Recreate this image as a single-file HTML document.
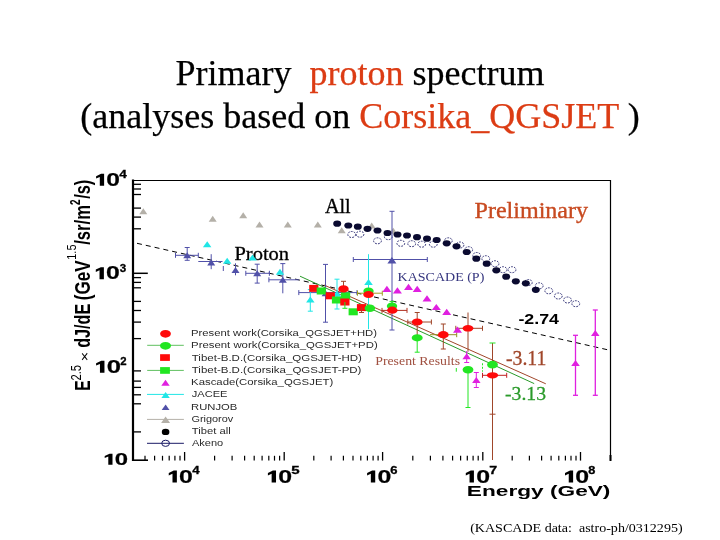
<!DOCTYPE html>
<html><head><meta charset="utf-8"><style>
html,body{margin:0;padding:0;background:#fff;width:720px;height:540px;overflow:hidden}
svg{position:absolute;left:0;top:0;will-change:transform}
</style></head><body>
<svg width="720" height="540" viewBox="0 0 720 540">
<text x="360" y="85" text-anchor="middle" font-family="Liberation Serif" font-size="36" fill="#000" stroke="#000" stroke-width="0.25" xml:space="preserve">Primary  <tspan fill="#dc3c14" stroke="#dc3c14">proton</tspan> spectrum</text>
<text x="360" y="128" text-anchor="middle" font-family="Liberation Serif" font-size="36" fill="#000" stroke="#000" stroke-width="0.25" xml:space="preserve">(analyses based on <tspan fill="#dc3c14" stroke="#dc3c14">Corsika_QGSJET</tspan> )</text>
<line x1="133" y1="179.5" x2="133" y2="461" stroke="#000" stroke-width="2.2"/>
<line x1="133" y1="180.5" x2="610.5" y2="180.5" stroke="#000" stroke-width="1.2"/>
<line x1="610.5" y1="180" x2="610.5" y2="460" stroke="#000" stroke-width="1.2"/>
<line x1="132" y1="460.2" x2="148" y2="460.2" stroke="#000" stroke-width="1.6"/>
<line x1="133" y1="431.9" x2="141" y2="431.9" stroke="#000" stroke-width="1.3"/>
<line x1="133" y1="403.8" x2="141" y2="403.8" stroke="#000" stroke-width="1.3"/>
<line x1="133" y1="394.8" x2="141" y2="394.8" stroke="#000" stroke-width="1.3"/>
<line x1="133" y1="387.4" x2="141" y2="387.4" stroke="#000" stroke-width="1.3"/>
<line x1="133" y1="381.1" x2="141" y2="381.1" stroke="#000" stroke-width="1.3"/>
<line x1="133" y1="370.9" x2="141" y2="370.9" stroke="#000" stroke-width="1.3"/>
<line x1="133" y1="338.6" x2="141" y2="338.6" stroke="#000" stroke-width="1.3"/>
<line x1="133" y1="322.1" x2="141" y2="322.1" stroke="#000" stroke-width="1.3"/>
<line x1="133" y1="310.5" x2="141" y2="310.5" stroke="#000" stroke-width="1.3"/>
<line x1="133" y1="301.4" x2="141" y2="301.4" stroke="#000" stroke-width="1.3"/>
<line x1="133" y1="287.8" x2="141" y2="287.8" stroke="#000" stroke-width="1.3"/>
<line x1="133" y1="282.4" x2="141" y2="282.4" stroke="#000" stroke-width="1.3"/>
<line x1="133" y1="277.6" x2="141" y2="277.6" stroke="#000" stroke-width="1.3"/>
<line x1="133" y1="228.8" x2="141" y2="228.8" stroke="#000" stroke-width="1.3"/>
<line x1="133" y1="217.1" x2="141" y2="217.1" stroke="#000" stroke-width="1.3"/>
<line x1="133" y1="208.1" x2="141" y2="208.1" stroke="#000" stroke-width="1.3"/>
<line x1="133" y1="194.5" x2="141" y2="194.5" stroke="#000" stroke-width="1.3"/>
<line x1="133" y1="189.0" x2="141" y2="189.0" stroke="#000" stroke-width="1.3"/>
<line x1="133" y1="184.3" x2="141" y2="184.3" stroke="#000" stroke-width="1.3"/>
<line x1="133" y1="273.3" x2="147.8" y2="273.3" stroke="#000" stroke-width="1.5"/>
<line x1="214.6" y1="455.8" x2="214.6" y2="460.6" stroke="#000" stroke-width="1.2"/>
<line x1="232.1" y1="455.8" x2="232.1" y2="460.6" stroke="#000" stroke-width="1.2"/>
<line x1="244.6" y1="455.8" x2="244.6" y2="460.6" stroke="#000" stroke-width="1.2"/>
<line x1="254.2" y1="455.8" x2="254.2" y2="460.6" stroke="#000" stroke-width="1.2"/>
<line x1="262.1" y1="455.8" x2="262.1" y2="460.6" stroke="#000" stroke-width="1.2"/>
<line x1="268.8" y1="455.8" x2="268.8" y2="460.6" stroke="#000" stroke-width="1.2"/>
<line x1="274.5" y1="455.8" x2="274.5" y2="460.6" stroke="#000" stroke-width="1.2"/>
<line x1="279.6" y1="455.8" x2="279.6" y2="460.6" stroke="#000" stroke-width="1.2"/>
<line x1="313.8" y1="455.8" x2="313.8" y2="460.6" stroke="#000" stroke-width="1.2"/>
<line x1="331.1" y1="455.8" x2="331.1" y2="460.6" stroke="#000" stroke-width="1.2"/>
<line x1="343.4" y1="455.8" x2="343.4" y2="460.6" stroke="#000" stroke-width="1.2"/>
<line x1="353.0" y1="455.8" x2="353.0" y2="460.6" stroke="#000" stroke-width="1.2"/>
<line x1="360.8" y1="455.8" x2="360.8" y2="460.6" stroke="#000" stroke-width="1.2"/>
<line x1="367.4" y1="455.8" x2="367.4" y2="460.6" stroke="#000" stroke-width="1.2"/>
<line x1="373.1" y1="455.8" x2="373.1" y2="460.6" stroke="#000" stroke-width="1.2"/>
<line x1="378.1" y1="455.8" x2="378.1" y2="460.6" stroke="#000" stroke-width="1.2"/>
<line x1="412.8" y1="455.8" x2="412.8" y2="460.6" stroke="#000" stroke-width="1.2"/>
<line x1="430.4" y1="455.8" x2="430.4" y2="460.6" stroke="#000" stroke-width="1.2"/>
<line x1="442.9" y1="455.8" x2="442.9" y2="460.6" stroke="#000" stroke-width="1.2"/>
<line x1="452.6" y1="455.8" x2="452.6" y2="460.6" stroke="#000" stroke-width="1.2"/>
<line x1="460.6" y1="455.8" x2="460.6" y2="460.6" stroke="#000" stroke-width="1.2"/>
<line x1="467.3" y1="455.8" x2="467.3" y2="460.6" stroke="#000" stroke-width="1.2"/>
<line x1="473.1" y1="455.8" x2="473.1" y2="460.6" stroke="#000" stroke-width="1.2"/>
<line x1="478.2" y1="455.8" x2="478.2" y2="460.6" stroke="#000" stroke-width="1.2"/>
<line x1="512.2" y1="455.8" x2="512.2" y2="460.6" stroke="#000" stroke-width="1.2"/>
<line x1="529.4" y1="455.8" x2="529.4" y2="460.6" stroke="#000" stroke-width="1.2"/>
<line x1="541.6" y1="455.8" x2="541.6" y2="460.6" stroke="#000" stroke-width="1.2"/>
<line x1="551.1" y1="455.8" x2="551.1" y2="460.6" stroke="#000" stroke-width="1.2"/>
<line x1="558.8" y1="455.8" x2="558.8" y2="460.6" stroke="#000" stroke-width="1.2"/>
<line x1="565.4" y1="455.8" x2="565.4" y2="460.6" stroke="#000" stroke-width="1.2"/>
<line x1="571.0" y1="455.8" x2="571.0" y2="460.6" stroke="#000" stroke-width="1.2"/>
<line x1="576.0" y1="455.8" x2="576.0" y2="460.6" stroke="#000" stroke-width="1.2"/>
<line x1="145.0" y1="455.8" x2="145.0" y2="460.6" stroke="#000" stroke-width="1.2"/>
<line x1="154.6" y1="455.8" x2="154.6" y2="460.6" stroke="#000" stroke-width="1.2"/>
<line x1="162.5" y1="455.8" x2="162.5" y2="460.6" stroke="#000" stroke-width="1.2"/>
<line x1="169.2" y1="455.8" x2="169.2" y2="460.6" stroke="#000" stroke-width="1.2"/>
<line x1="174.9" y1="455.8" x2="174.9" y2="460.6" stroke="#000" stroke-width="1.2"/>
<line x1="180.0" y1="455.8" x2="180.0" y2="460.6" stroke="#000" stroke-width="1.2"/>
<line x1="184.6" y1="452" x2="184.6" y2="460.6" stroke="#000" stroke-width="1.3"/>
<line x1="284.2" y1="452" x2="284.2" y2="460.6" stroke="#000" stroke-width="1.3"/>
<line x1="382.6" y1="452" x2="382.6" y2="460.6" stroke="#000" stroke-width="1.3"/>
<line x1="482.8" y1="452" x2="482.8" y2="460.6" stroke="#000" stroke-width="1.3"/>
<line x1="580.5" y1="452" x2="580.5" y2="460.6" stroke="#000" stroke-width="1.3"/>
<line x1="610.5" y1="455" x2="610.5" y2="461" stroke="#000" stroke-width="2"/>
<polygon points="99.79,185.80 104.11,185.80 104.11,173.76 101.07,173.76 96.10,176.17 96.10,178.58 99.79,176.89" fill="#000"/><text x="106.35" y="185.80" font-family="Liberation Sans" font-size="17.5" font-weight="bold" fill="#000" stroke="#000" stroke-width="0.2" textLength="13.66" lengthAdjust="spacingAndGlyphs" xml:space="preserve">0</text>
<polygon points="99.52,279.20 103.88,279.20 103.88,267.16 100.81,267.16 95.80,269.57 95.80,271.98 99.52,270.29" fill="#000"/><text x="106.14" y="279.20" font-family="Liberation Sans" font-size="17.5" font-weight="bold" fill="#000" stroke="#000" stroke-width="0.2" textLength="13.78" lengthAdjust="spacingAndGlyphs" xml:space="preserve">0</text>
<polygon points="99.95,372.80 104.46,372.80 104.46,360.76 101.29,360.76 96.10,363.17 96.10,365.58 99.95,363.89" fill="#000"/><text x="106.80" y="372.80" font-family="Liberation Sans" font-size="17.5" font-weight="bold" fill="#000" stroke="#000" stroke-width="0.2" textLength="14.25" lengthAdjust="spacingAndGlyphs" xml:space="preserve">0</text>
<text x="119.19" y="177.90" font-family="Liberation Sans" font-size="11.3" font-weight="bold" fill="#000" stroke="#000" stroke-width="0.3" textLength="7.58" lengthAdjust="spacingAndGlyphs" xml:space="preserve">4</text>
<text x="119.73" y="272.00" font-family="Liberation Sans" font-size="11.3" font-weight="bold" fill="#000" stroke="#000" stroke-width="0.3" textLength="6.49" lengthAdjust="spacingAndGlyphs" xml:space="preserve">3</text>
<text x="120.20" y="365.00" font-family="Liberation Sans" font-size="11.3" font-weight="bold" fill="#000" stroke="#000" stroke-width="0.3" textLength="6.35" lengthAdjust="spacingAndGlyphs" xml:space="preserve">2</text>
<polygon points="108.29,464.70 112.50,464.70 112.50,453.69 109.54,453.69 104.70,455.89 104.70,458.10 108.29,456.55" fill="#000"/><text x="114.68" y="464.70" font-family="Liberation Sans" font-size="16" font-weight="bold" fill="#000" stroke="#000" stroke-width="0.2" textLength="13.30" lengthAdjust="spacingAndGlyphs" xml:space="preserve">0</text>
<polygon points="172.49,482.60 176.87,482.60 176.87,470.56 173.78,470.56 168.75,472.97 168.75,475.38 172.49,473.69" fill="#000"/><text x="179.13" y="482.60" font-family="Liberation Sans" font-size="17.5" font-weight="bold" fill="#000" stroke="#000" stroke-width="0.2" textLength="13.84" lengthAdjust="spacingAndGlyphs" xml:space="preserve">0</text>
<text x="192.30" y="474.00" font-family="Liberation Sans" font-size="10.5" font-weight="bold" fill="#000" stroke="#000" stroke-width="0.3" textLength="7.37" lengthAdjust="spacingAndGlyphs" xml:space="preserve">4</text>
<polygon points="271.64,482.60 276.02,482.60 276.02,470.56 272.93,470.56 267.90,472.97 267.90,475.38 271.64,473.69" fill="#000"/><text x="278.28" y="482.60" font-family="Liberation Sans" font-size="17.5" font-weight="bold" fill="#000" stroke="#000" stroke-width="0.2" textLength="13.84" lengthAdjust="spacingAndGlyphs" xml:space="preserve">0</text>
<text x="291.24" y="474.00" font-family="Liberation Sans" font-size="10.5" font-weight="bold" fill="#000" stroke="#000" stroke-width="0.3" textLength="8.38" lengthAdjust="spacingAndGlyphs" xml:space="preserve">5</text>
<polygon points="370.84,482.60 375.22,482.60 375.22,470.56 372.13,470.56 367.10,472.97 367.10,475.38 370.84,473.69" fill="#000"/><text x="377.48" y="482.60" font-family="Liberation Sans" font-size="17.5" font-weight="bold" fill="#000" stroke="#000" stroke-width="0.2" textLength="13.84" lengthAdjust="spacingAndGlyphs" xml:space="preserve">0</text>
<text x="390.32" y="474.00" font-family="Liberation Sans" font-size="10.5" font-weight="bold" fill="#000" stroke="#000" stroke-width="0.3" textLength="7.25" lengthAdjust="spacingAndGlyphs" xml:space="preserve">6</text>
<polygon points="469.54,482.60 473.92,482.60 473.92,470.56 470.83,470.56 465.80,472.97 465.80,475.38 469.54,473.69" fill="#000"/><text x="476.18" y="482.60" font-family="Liberation Sans" font-size="17.5" font-weight="bold" fill="#000" stroke="#000" stroke-width="0.2" textLength="13.84" lengthAdjust="spacingAndGlyphs" xml:space="preserve">0</text>
<text x="489.39" y="474.00" font-family="Liberation Sans" font-size="10.5" font-weight="bold" fill="#000" stroke="#000" stroke-width="0.3" textLength="7.94" lengthAdjust="spacingAndGlyphs" xml:space="preserve">7</text>
<polygon points="568.74,482.60 573.12,482.60 573.12,470.56 570.03,470.56 565.00,472.97 565.00,475.38 568.74,473.69" fill="#000"/><text x="575.38" y="482.60" font-family="Liberation Sans" font-size="17.5" font-weight="bold" fill="#000" stroke="#000" stroke-width="0.2" textLength="13.84" lengthAdjust="spacingAndGlyphs" xml:space="preserve">0</text>
<text x="588.34" y="474.00" font-family="Liberation Sans" font-size="10.5" font-weight="bold" fill="#000" stroke="#000" stroke-width="0.3" textLength="7.10" lengthAdjust="spacingAndGlyphs" xml:space="preserve">8</text>
<text x="466.88" y="495.80" font-family="Liberation Sans" font-size="14.5" font-weight="bold" fill="#000" textLength="143.54" lengthAdjust="spacingAndGlyphs" xml:space="preserve">Energy (GeV)</text>
<g transform="translate(90.2,390) rotate(-90)"><text x="-0.85" y="0.00" font-family="Liberation Sans" font-size="22.5" font-weight="bold" fill="#000" textLength="10.46" lengthAdjust="spacingAndGlyphs" xml:space="preserve">E</text><text x="9.43" y="-9.00" font-family="Liberation Sans" font-size="15.5" font-weight="normal" fill="#000" textLength="15.64" lengthAdjust="spacingAndGlyphs" xml:space="preserve">2.5</text><text x="28.43" y="-1.20" font-family="Liberation Sans" font-size="12.5" font-weight="normal" fill="#000" textLength="9.82" lengthAdjust="spacingAndGlyphs" xml:space="preserve">×</text><text x="42.13" y="0.00" font-family="Liberation Sans" font-size="22.5" font-weight="bold" fill="#000" textLength="44.20" lengthAdjust="spacingAndGlyphs" xml:space="preserve">dJ/dE</text><text x="89.75" y="0.00" font-family="Liberation Sans" font-size="22.5" font-weight="bold" fill="#000" textLength="39.77" lengthAdjust="spacingAndGlyphs" xml:space="preserve">(GeV</text><text x="130.27" y="-13.80" font-family="Liberation Sans" font-size="12.8" font-weight="normal" fill="#000" textLength="15.19" lengthAdjust="spacingAndGlyphs" xml:space="preserve">1.5</text><text x="145.24" y="0.00" font-family="Liberation Sans" font-size="22.5" font-weight="bold" fill="#000" textLength="39.69" lengthAdjust="spacingAndGlyphs" xml:space="preserve">/sr/m</text><text x="185.05" y="-10.40" font-family="Liberation Sans" font-size="14" font-weight="bold" fill="#000" textLength="5.54" lengthAdjust="spacingAndGlyphs" xml:space="preserve">2</text><text x="191.14" y="0.00" font-family="Liberation Sans" font-size="22.5" font-weight="bold" fill="#000" textLength="19.07" lengthAdjust="spacingAndGlyphs" xml:space="preserve">/s)</text></g>
<text x="324.90" y="212.90" font-family="Liberation Serif" font-size="20" font-weight="normal" fill="#000" stroke="#000" stroke-width="0.35" textLength="25.80" lengthAdjust="spacingAndGlyphs" xml:space="preserve">All</text>
<text x="234.41" y="260.30" font-family="Liberation Serif" font-size="18.5" font-weight="normal" fill="#000" stroke="#000" stroke-width="0.3" textLength="54.70" lengthAdjust="spacingAndGlyphs" xml:space="preserve">Proton</text>
<text x="474.51" y="218.40" font-family="Liberation Serif" font-size="22.4" font-weight="normal" fill="#c84a20" stroke="#c84a20" stroke-width="0.35" textLength="113.59" lengthAdjust="spacingAndGlyphs" xml:space="preserve">Preliminary</text>
<text x="397.60" y="280.60" font-family="Liberation Serif" font-size="12.8" font-weight="normal" fill="#34347e" textLength="86.72" lengthAdjust="spacingAndGlyphs" xml:space="preserve">KASCADE (P)</text>
<text x="375.20" y="364.70" font-family="Liberation Serif" font-size="13.3" font-weight="normal" fill="#a05040" textLength="84.90" lengthAdjust="spacingAndGlyphs" xml:space="preserve">Present Results</text>
<text x="505.98" y="365.00" font-family="Liberation Serif" font-size="20.4" font-weight="normal" fill="#a0462a" stroke="#a0462a" stroke-width="0.3" textLength="40.38" lengthAdjust="spacingAndGlyphs" xml:space="preserve">-3.11</text>
<text x="505.07" y="400.30" font-family="Liberation Serif" font-size="19.6" font-weight="normal" fill="#2a9a2a" stroke="#2a9a2a" stroke-width="0.3" textLength="41.00" lengthAdjust="spacingAndGlyphs" xml:space="preserve">-3.13</text>
<text x="518.40" y="323.90" font-family="Liberation Sans" font-size="13.8" font-weight="bold" fill="#000" textLength="40.59" lengthAdjust="spacingAndGlyphs" xml:space="preserve">-2.74</text>
<text x="470.18" y="532.10" font-family="Liberation Serif" font-size="12.4" font-weight="normal" fill="#000" textLength="212.43" lengthAdjust="spacingAndGlyphs" xml:space="preserve">(KASCADE data:  astro-ph/0312295)</text>
<line x1="137" y1="243.3" x2="609.5" y2="350.2" stroke="#000" stroke-width="1.0" stroke-dasharray="5,4"/>
<line x1="300" y1="276.2" x2="534.2" y2="383.6" stroke="#2a9a2a" stroke-width="1.0"/>
<line x1="324" y1="285" x2="545.8" y2="383.8" stroke="#a0462a" stroke-width="1.0"/>
<polygon points="139.3,214.3 147.3,214.3 143.3,208.3" fill="#b4b0a8"/>
<polygon points="208.7,221.7 216.7,221.7 212.7,215.7" fill="#b4b0a8"/>
<polygon points="239.2,218.3 247.2,218.3 243.2,212.3" fill="#b4b0a8"/>
<polygon points="255.5,227.5 263.5,227.5 259.5,221.5" fill="#b4b0a8"/>
<polygon points="283.8,227.5 291.8,227.5 287.8,221.5" fill="#b4b0a8"/>
<polygon points="313.8,227.5 321.8,227.5 317.8,221.5" fill="#b4b0a8"/>
<polygon points="337.7,233.3 345.7,233.3 341.7,227.3" fill="#b4b0a8"/>
<polygon points="367.7,228.5 375.7,228.5 371.7,222.5" fill="#b4b0a8"/>
<polygon points="389.3,233.8 397.3,233.8 393.3,227.8" fill="#b4b0a8"/>
<ellipse cx="351.7" cy="234.5" rx="3.9" ry="3.0" fill="none" stroke="#1a1a66" stroke-width="0.9" stroke-dasharray="1.8,1.2"/>
<ellipse cx="360" cy="234.2" rx="3.9" ry="3.0" fill="none" stroke="#1a1a66" stroke-width="0.9" stroke-dasharray="1.8,1.2"/>
<ellipse cx="377.5" cy="240.8" rx="3.9" ry="3.0" fill="none" stroke="#1a1a66" stroke-width="0.9" stroke-dasharray="1.8,1.2"/>
<ellipse cx="388.3" cy="236.7" rx="3.9" ry="3.0" fill="none" stroke="#1a1a66" stroke-width="0.9" stroke-dasharray="1.8,1.2"/>
<ellipse cx="400.8" cy="243.3" rx="3.9" ry="3.0" fill="none" stroke="#1a1a66" stroke-width="0.9" stroke-dasharray="1.8,1.2"/>
<ellipse cx="411.7" cy="243.7" rx="3.9" ry="3.0" fill="none" stroke="#1a1a66" stroke-width="0.9" stroke-dasharray="1.8,1.2"/>
<ellipse cx="421.7" cy="244.2" rx="3.9" ry="3.0" fill="none" stroke="#1a1a66" stroke-width="0.9" stroke-dasharray="1.8,1.2"/>
<ellipse cx="433.3" cy="244.2" rx="3.9" ry="3.0" fill="none" stroke="#1a1a66" stroke-width="0.9" stroke-dasharray="1.8,1.2"/>
<ellipse cx="448.3" cy="240.8" rx="3.9" ry="3.0" fill="none" stroke="#1a1a66" stroke-width="0.9" stroke-dasharray="1.8,1.2"/>
<ellipse cx="460" cy="245" rx="3.9" ry="3.0" fill="none" stroke="#1a1a66" stroke-width="0.9" stroke-dasharray="1.8,1.2"/>
<ellipse cx="468.7" cy="249.7" rx="3.9" ry="3.0" fill="none" stroke="#1a1a66" stroke-width="0.9" stroke-dasharray="1.8,1.2"/>
<ellipse cx="476.7" cy="255.5" rx="3.9" ry="3.0" fill="none" stroke="#1a1a66" stroke-width="0.9" stroke-dasharray="1.8,1.2"/>
<ellipse cx="485.8" cy="258.7" rx="3.9" ry="3.0" fill="none" stroke="#1a1a66" stroke-width="0.9" stroke-dasharray="1.8,1.2"/>
<ellipse cx="495" cy="263.7" rx="3.9" ry="3.0" fill="none" stroke="#1a1a66" stroke-width="0.9" stroke-dasharray="1.8,1.2"/>
<ellipse cx="503" cy="269.7" rx="3.9" ry="3.0" fill="none" stroke="#1a1a66" stroke-width="0.9" stroke-dasharray="1.8,1.2"/>
<ellipse cx="512" cy="269.7" rx="3.9" ry="3.0" fill="none" stroke="#1a1a66" stroke-width="0.9" stroke-dasharray="1.8,1.2"/>
<ellipse cx="528.3" cy="282.5" rx="3.9" ry="3.0" fill="none" stroke="#1a1a66" stroke-width="0.9" stroke-dasharray="1.8,1.2"/>
<ellipse cx="539.2" cy="285.8" rx="3.9" ry="3.0" fill="none" stroke="#1a1a66" stroke-width="0.9" stroke-dasharray="1.8,1.2"/>
<ellipse cx="548.8" cy="290.8" rx="3.9" ry="3.0" fill="none" stroke="#1a1a66" stroke-width="0.9" stroke-dasharray="1.8,1.2"/>
<ellipse cx="558.3" cy="296" rx="3.9" ry="3.0" fill="none" stroke="#1a1a66" stroke-width="0.9" stroke-dasharray="1.8,1.2"/>
<ellipse cx="567.5" cy="300" rx="3.9" ry="3.0" fill="none" stroke="#1a1a66" stroke-width="0.9" stroke-dasharray="1.8,1.2"/>
<ellipse cx="575.8" cy="303.7" rx="3.9" ry="3.0" fill="none" stroke="#1a1a66" stroke-width="0.9" stroke-dasharray="1.8,1.2"/>
<ellipse cx="337.2" cy="223.7" rx="4.0" ry="3.1" fill="#0a0a30"/>
<ellipse cx="348.3" cy="225.5" rx="4.0" ry="3.1" fill="#0a0a30"/>
<ellipse cx="357.8" cy="226.7" rx="4.0" ry="3.1" fill="#0a0a30"/>
<ellipse cx="367.5" cy="228.8" rx="4.0" ry="3.1" fill="#0a0a30"/>
<ellipse cx="377.5" cy="230.5" rx="4.0" ry="3.1" fill="#0a0a30"/>
<ellipse cx="387.5" cy="233" rx="4.0" ry="3.1" fill="#0a0a30"/>
<ellipse cx="397.5" cy="234.5" rx="4.0" ry="3.1" fill="#0a0a30"/>
<ellipse cx="407" cy="235.5" rx="4.0" ry="3.1" fill="#0a0a30"/>
<ellipse cx="417" cy="237.2" rx="4.0" ry="3.1" fill="#0a0a30"/>
<ellipse cx="427" cy="238.7" rx="4.0" ry="3.1" fill="#0a0a30"/>
<ellipse cx="436.7" cy="240" rx="4.0" ry="3.1" fill="#0a0a30"/>
<ellipse cx="446.7" cy="243.3" rx="4.0" ry="3.1" fill="#0a0a30"/>
<ellipse cx="456.5" cy="246.3" rx="4.0" ry="3.1" fill="#0a0a30"/>
<ellipse cx="466.7" cy="252" rx="4.0" ry="3.1" fill="#0a0a30"/>
<ellipse cx="476.3" cy="258.7" rx="4.0" ry="3.1" fill="#0a0a30"/>
<ellipse cx="486.7" cy="263.7" rx="4.0" ry="3.1" fill="#0a0a30"/>
<ellipse cx="496.3" cy="270.3" rx="4.0" ry="3.1" fill="#0a0a30"/>
<ellipse cx="506.2" cy="276.7" rx="4.0" ry="3.1" fill="#0a0a30"/>
<ellipse cx="515.8" cy="281.3" rx="4.0" ry="3.1" fill="#0a0a30"/>
<ellipse cx="525.8" cy="283.3" rx="4.0" ry="3.1" fill="#0a0a30"/>
<ellipse cx="535.8" cy="289.8" rx="4.0" ry="3.1" fill="#0a0a30"/>
<line x1="175.5" y1="255.3" x2="198.3" y2="255.3" stroke="#5050a8" stroke-width="1.0"/><line x1="175.5" y1="252.8" x2="175.5" y2="257.8" stroke="#5050a8" stroke-width="1.0"/><line x1="198.3" y1="252.8" x2="198.3" y2="257.8" stroke="#5050a8" stroke-width="1.0"/>
<line x1="187.2" y1="247.5" x2="187.2" y2="260.3" stroke="#5050a8" stroke-width="1.0"/><line x1="184.7" y1="247.5" x2="189.7" y2="247.5" stroke="#5050a8" stroke-width="1.0"/><line x1="184.7" y1="260.3" x2="189.7" y2="260.3" stroke="#5050a8" stroke-width="1.0"/>
<polygon points="183.2,258.3 191.2,258.3 187.2,252.3" fill="#5050a8"/>
<line x1="198.3" y1="261.5" x2="222.5" y2="261.5" stroke="#5050a8" stroke-width="1.0"/><line x1="198.3" y1="261.5" x2="198.3" y2="261.5" stroke="#5050a8" stroke-width="1.0"/><line x1="222.5" y1="261.5" x2="222.5" y2="261.5" stroke="#5050a8" stroke-width="1.0"/>
<line x1="211.2" y1="254.2" x2="211.2" y2="269.2" stroke="#5050a8" stroke-width="1.0"/><line x1="211.2" y1="254.2" x2="211.2" y2="254.2" stroke="#5050a8" stroke-width="1.0"/><line x1="211.2" y1="269.2" x2="211.2" y2="269.2" stroke="#5050a8" stroke-width="1.0"/>
<polygon points="207.2,265.5 215.2,265.5 211.2,259.5" fill="#5050a8"/>
<line x1="235.5" y1="263.3" x2="235.5" y2="275.3" stroke="#5050a8" stroke-width="1.0"/><line x1="235.5" y1="263.3" x2="235.5" y2="263.3" stroke="#5050a8" stroke-width="1.0"/><line x1="235.5" y1="275.3" x2="235.5" y2="275.3" stroke="#5050a8" stroke-width="1.0"/>
<polygon points="231.5,273.0 239.5,273.0 235.5,267.0" fill="#5050a8"/>
<line x1="245.8" y1="273.3" x2="269.4" y2="273.3" stroke="#5050a8" stroke-width="1.0"/><line x1="245.8" y1="270.8" x2="245.8" y2="275.8" stroke="#5050a8" stroke-width="1.0"/><line x1="269.4" y1="270.8" x2="269.4" y2="275.8" stroke="#5050a8" stroke-width="1.0"/>
<line x1="257.2" y1="264.2" x2="257.2" y2="283.1" stroke="#5050a8" stroke-width="1.0"/><line x1="254.7" y1="264.2" x2="259.7" y2="264.2" stroke="#5050a8" stroke-width="1.0"/><line x1="254.7" y1="283.1" x2="259.7" y2="283.1" stroke="#5050a8" stroke-width="1.0"/>
<polygon points="253.2,276.3 261.2,276.3 257.2,270.3" fill="#5050a8"/>
<line x1="268.9" y1="279.8" x2="299" y2="279.8" stroke="#5050a8" stroke-width="1.0"/><line x1="268.9" y1="277.3" x2="268.9" y2="282.3" stroke="#5050a8" stroke-width="1.0"/>
<line x1="282.8" y1="263.6" x2="282.8" y2="293.3" stroke="#5050a8" stroke-width="1.0"/><line x1="280.3" y1="263.6" x2="285.3" y2="263.6" stroke="#5050a8" stroke-width="1.0"/>
<polygon points="278.8,282.8 286.8,282.8 282.8,276.8" fill="#5050a8"/>
<line x1="325.5" y1="264.4" x2="325.5" y2="322.2" stroke="#5050a8" stroke-width="1.0"/><line x1="323.0" y1="264.4" x2="328.0" y2="264.4" stroke="#5050a8" stroke-width="1.0"/><line x1="323.0" y1="322.2" x2="328.0" y2="322.2" stroke="#5050a8" stroke-width="1.0"/>
<line x1="298.8" y1="292.6" x2="357" y2="292.6" stroke="#5050a8" stroke-width="1.0"/><line x1="298.8" y1="290.1" x2="298.8" y2="295.1" stroke="#5050a8" stroke-width="1.0"/><line x1="357" y1="290.1" x2="357" y2="295.1" stroke="#5050a8" stroke-width="1.0"/>
<polygon points="321.6,296.2 329.6,296.2 325.6,290.2" fill="#5050a8"/>
<line x1="392" y1="211.3" x2="392" y2="330" stroke="#5050a8" stroke-width="1.0"/><line x1="389.5" y1="211.3" x2="394.5" y2="211.3" stroke="#5050a8" stroke-width="1.0"/><line x1="389.5" y1="330" x2="394.5" y2="330" stroke="#5050a8" stroke-width="1.0"/>
<line x1="353.3" y1="259.5" x2="427.3" y2="259.5" stroke="#5050a8" stroke-width="1.0"/><line x1="353.3" y1="257.0" x2="353.3" y2="262.0" stroke="#5050a8" stroke-width="1.0"/><line x1="427.3" y1="257.0" x2="427.3" y2="262.0" stroke="#5050a8" stroke-width="1.0"/>
<polygon points="387.4,263.6 396.4,263.6 391.9,257.1" fill="#5050a8"/>
<polygon points="202.9,247.2 211.4,247.2 207.2,241.2" fill="#20e6e6"/>
<polygon points="222.9,263.8 231.4,263.8 227.2,257.8" fill="#20e6e6"/>
<polygon points="248.2,260.5 256.8,260.5 252.5,254.5" fill="#20e6e6"/>
<polygon points="275.8,274.7 284.2,274.7 280.0,268.7" fill="#20e6e6"/>
<line x1="223.3" y1="266" x2="223.3" y2="271" stroke="#5050a8" stroke-width="1"/>
<line x1="310.3" y1="289.6" x2="310.3" y2="311.2" stroke="#20e6e6" stroke-width="1.0"/><line x1="307.8" y1="289.6" x2="312.8" y2="289.6" stroke="#20e6e6" stroke-width="1.0"/><line x1="307.8" y1="311.2" x2="312.8" y2="311.2" stroke="#20e6e6" stroke-width="1.0"/>
<polygon points="306.1,302.6 314.6,302.6 310.3,296.6" fill="#20e6e6"/>
<line x1="337" y1="279.2" x2="337" y2="309" stroke="#20e6e6" stroke-width="1.0"/><line x1="334.5" y1="279.2" x2="339.5" y2="279.2" stroke="#20e6e6" stroke-width="1.0"/><line x1="334.5" y1="309" x2="339.5" y2="309" stroke="#20e6e6" stroke-width="1.0"/>
<polygon points="332.8,296.8 341.2,296.8 337.0,290.8" fill="#20e6e6"/>
<line x1="368.5" y1="254.2" x2="368.5" y2="329.2" stroke="#20e6e6" stroke-width="1.0"/><line x1="368.5" y1="254.2" x2="368.5" y2="254.2" stroke="#20e6e6" stroke-width="1.0"/><line x1="368.5" y1="329.2" x2="368.5" y2="329.2" stroke="#20e6e6" stroke-width="1.0"/>
<polygon points="364.2,285.0 372.8,285.0 368.5,279.0" fill="#20e6e6"/>
<line x1="357.5" y1="293.2" x2="382.3" y2="293.2" stroke="#a0a020" stroke-width="1.0"/><line x1="357.5" y1="290.7" x2="357.5" y2="295.7" stroke="#a0a020" stroke-width="1.0"/><line x1="382.3" y1="290.7" x2="382.3" y2="295.7" stroke="#a0a020" stroke-width="1.0"/>
<rect x="309.2" y="284.9" width="9.2" height="7" fill="#ff0a0a"/>
<rect x="316.7" y="287.5" width="9.2" height="7" fill="#22e622"/>
<rect x="325.7" y="292.3" width="9.2" height="7" fill="#ff0a0a"/>
<rect x="331.9" y="296.5" width="9.2" height="7" fill="#22e622"/>
<rect x="341.0" y="292.3" width="9.2" height="7" fill="#22e622"/>
<rect x="340.3" y="298.5" width="9.2" height="7" fill="#ff0a0a"/>
<rect x="348.6" y="308.3" width="9.2" height="7" fill="#22e622"/>
<rect x="356.9" y="304.1" width="9.2" height="7" fill="#ff0a0a"/>
<line x1="344.9" y1="302" x2="344.9" y2="308.3" stroke="#22e622" stroke-width="1.0"/><line x1="342.4" y1="308.3" x2="347.4" y2="308.3" stroke="#22e622" stroke-width="1.0"/>
<line x1="361.5" y1="307.6" x2="361.5" y2="312.5" stroke="#a0462a" stroke-width="1.0"/><line x1="359.0" y1="312.5" x2="364.0" y2="312.5" stroke="#a0462a" stroke-width="1.0"/>
<line x1="343.5" y1="281.3" x2="343.5" y2="289" stroke="#a0462a" stroke-width="1.0"/><line x1="341.0" y1="281.3" x2="346.0" y2="281.3" stroke="#a0462a" stroke-width="1.0"/>
<ellipse cx="343.5" cy="288.9" rx="5.2" ry="3.6" fill="#ff0a0a"/>
<ellipse cx="368.5" cy="291" rx="5.2" ry="3.6" fill="#22e622"/>
<ellipse cx="368.5" cy="294.5" rx="5.2" ry="3.6" fill="#ff0a0a"/>
<ellipse cx="369.9" cy="308.3" rx="5.2" ry="3.8" fill="#22e622"/>
<line x1="382" y1="310.4" x2="407" y2="310.4" stroke="#b03020" stroke-width="1.0"/><line x1="382" y1="307.9" x2="382" y2="312.9" stroke="#b03020" stroke-width="1.0"/><line x1="407" y1="307.9" x2="407" y2="312.9" stroke="#b03020" stroke-width="1.0"/>
<line x1="392" y1="301.4" x2="392" y2="310" stroke="#22e622" stroke-width="1.0"/><line x1="389.5" y1="301.4" x2="394.5" y2="301.4" stroke="#22e622" stroke-width="1.0"/>
<ellipse cx="392" cy="306" rx="5.2" ry="3.6" fill="#22e622"/>
<ellipse cx="392.3" cy="310.2" rx="5.2" ry="3.6" fill="#ff0a0a"/>
<line x1="407.8" y1="322" x2="431.4" y2="322" stroke="#a0462a" stroke-width="1.0"/><line x1="407.8" y1="319.5" x2="407.8" y2="324.5" stroke="#a0462a" stroke-width="1.0"/><line x1="431.4" y1="319.5" x2="431.4" y2="324.5" stroke="#a0462a" stroke-width="1.0"/>
<line x1="417.2" y1="312.5" x2="417.2" y2="337" stroke="#a0462a" stroke-width="1.0"/><line x1="414.7" y1="312.5" x2="419.7" y2="312.5" stroke="#a0462a" stroke-width="1.0"/>
<line x1="417.2" y1="337.8" x2="417.2" y2="352.2" stroke="#22e622" stroke-width="1.0"/><line x1="414.7" y1="352.2" x2="419.7" y2="352.2" stroke="#22e622" stroke-width="1.0"/>
<ellipse cx="417.2" cy="337.8" rx="5.5" ry="3.6" fill="#22e622"/>
<ellipse cx="417.2" cy="322" rx="5.4" ry="3.6" fill="#ff0a0a"/>
<line x1="430" y1="334.7" x2="456.7" y2="334.7" stroke="#909020" stroke-width="1.0"/><line x1="456.7" y1="332.2" x2="456.7" y2="337.2" stroke="#909020" stroke-width="1.0"/>
<line x1="443.3" y1="324" x2="443.3" y2="349" stroke="#a0462a" stroke-width="1.0"/><line x1="440.8" y1="324" x2="445.8" y2="324" stroke="#a0462a" stroke-width="1.0"/><line x1="440.8" y1="349" x2="445.8" y2="349" stroke="#a0462a" stroke-width="1.0"/>
<ellipse cx="443.3" cy="334.7" rx="5.4" ry="3.6" fill="#ff0a0a"/>
<line x1="455.8" y1="328.3" x2="482.5" y2="328.3" stroke="#a0462a" stroke-width="1.0"/><line x1="455.8" y1="325.8" x2="455.8" y2="330.8" stroke="#a0462a" stroke-width="1.0"/><line x1="482.5" y1="325.8" x2="482.5" y2="330.8" stroke="#a0462a" stroke-width="1.0"/>
<line x1="468" y1="312.5" x2="468" y2="351.7" stroke="#a0462a" stroke-width="1.0"/><line x1="468.0" y1="312.5" x2="468.0" y2="312.5" stroke="#a0462a" stroke-width="1.0"/><line x1="468.0" y1="351.7" x2="468.0" y2="351.7" stroke="#a0462a" stroke-width="1.0"/>
<ellipse cx="468" cy="328.3" rx="5.4" ry="3.3" fill="#ff0a0a"/>
<line x1="468" y1="369.7" x2="468" y2="407.5" stroke="#22e622" stroke-width="1.0"/><line x1="465.5" y1="407.5" x2="470.5" y2="407.5" stroke="#22e622" stroke-width="1.0"/>
<ellipse cx="468" cy="369.7" rx="5.4" ry="3.8" fill="#22e622"/>
<line x1="492.5" y1="343" x2="492.5" y2="460" stroke="#a0462a" stroke-width="1.0"/><line x1="492.5" y1="343" x2="492.5" y2="343" stroke="#a0462a" stroke-width="1.0"/><line x1="492.5" y1="460" x2="492.5" y2="460" stroke="#a0462a" stroke-width="1.0"/>
<line x1="489.5" y1="414.2" x2="495.5" y2="414.2" stroke="#a0462a" stroke-width="1"/>
<line x1="489.5" y1="343" x2="495.5" y2="343" stroke="#22e622" stroke-width="1.0"/>
<ellipse cx="492.5" cy="364.7" rx="5.4" ry="3.9" fill="#22e622"/>
<line x1="482.5" y1="375.3" x2="506.7" y2="375.3" stroke="#c02020" stroke-width="1.0"/><line x1="482.5" y1="372.8" x2="482.5" y2="377.8" stroke="#c02020" stroke-width="1.0"/><line x1="506.7" y1="372.8" x2="506.7" y2="377.8" stroke="#c02020" stroke-width="1.0"/>
<ellipse cx="492.5" cy="375.3" rx="5.6" ry="3.1" fill="#ff0a0a"/>
<line x1="482.5" y1="363.3" x2="482.5" y2="371.7" stroke="#22e622" stroke-width="1" stroke-dasharray="2,1.5"/>
<line x1="456.3" y1="368" x2="456.3" y2="371.7" stroke="#22e622" stroke-width="1"/>
<polygon points="382.4,292.0 391.4,292.0 386.9,285.8" fill="#e020e0"/>
<polygon points="392.9,293.4 401.9,293.4 397.4,287.2" fill="#e020e0"/>
<polygon points="404.0,289.9 413.0,289.9 408.5,283.7" fill="#e020e0"/>
<polygon points="412.7,292.0 421.7,292.0 417.2,285.8" fill="#e020e0"/>
<polygon points="422.5,301.4 431.5,301.4 427.0,295.2" fill="#e020e0"/>
<polygon points="431.8,310.1 440.8,310.1 436.3,303.9" fill="#e020e0"/>
<polygon points="442.2,314.9 451.2,314.9 446.7,308.7" fill="#e020e0"/>
<polygon points="453.0,332.8 462.0,332.8 457.5,326.6" fill="#e020e0"/>
<line x1="466.7" y1="351" x2="466.7" y2="362.5" stroke="#e020e0" stroke-width="1.0"/><line x1="464.2" y1="362.5" x2="469.2" y2="362.5" stroke="#e020e0" stroke-width="1.0"/>
<polygon points="462.4,359.3 470.9,359.3 466.7,353.3" fill="#e020e0"/>
<line x1="476.3" y1="372.5" x2="476.3" y2="387.5" stroke="#e020e0" stroke-width="1.0"/><line x1="473.8" y1="372.5" x2="478.8" y2="372.5" stroke="#e020e0" stroke-width="1.0"/><line x1="473.8" y1="387.5" x2="478.8" y2="387.5" stroke="#e020e0" stroke-width="1.0"/>
<polygon points="472.1,383.0 480.6,383.0 476.3,377.0" fill="#e020e0"/>
<line x1="575.5" y1="335.3" x2="575.5" y2="395.3" stroke="#e020e0" stroke-width="1.3"/><line x1="573.0" y1="335.3" x2="578.0" y2="335.3" stroke="#e020e0" stroke-width="1.3"/><line x1="573.0" y1="395.3" x2="578.0" y2="395.3" stroke="#e020e0" stroke-width="1.3"/>
<polygon points="571.2,366.0 579.8,366.0 575.5,360.0" fill="#e020e0"/>
<line x1="595.3" y1="310" x2="595.3" y2="395.3" stroke="#e020e0" stroke-width="1.3"/><line x1="592.8" y1="310" x2="597.8" y2="310" stroke="#e020e0" stroke-width="1.3"/><line x1="592.8" y1="395.3" x2="597.8" y2="395.3" stroke="#e020e0" stroke-width="1.3"/>
<polygon points="591.0,336.0 599.5,336.0 595.3,330.0" fill="#e020e0"/>
<ellipse cx="165.5" cy="333.8" rx="5.4" ry="3.9" fill="#ff0a0a"/>
<line x1="147.2" y1="345.3" x2="183.8" y2="345.3" stroke="#60c060" stroke-width="1.0"/>
<ellipse cx="165.5" cy="345.8" rx="5.5" ry="3.9" fill="#22e622"/>
<rect x="160.1" y="354.2" width="9.8" height="6.7" fill="#ff0a0a"/>
<line x1="147.2" y1="370.4" x2="183.8" y2="370.4" stroke="#60c060" stroke-width="1.0"/>
<rect x="160.1" y="367.1" width="9.8" height="6.7" fill="#22e622"/>
<polygon points="161.3,385.8 169.7,385.8 165.5,379.8" fill="#e020e0"/>
<line x1="147" y1="394.4" x2="183.9" y2="394.4" stroke="#20e6e6" stroke-width="1.0"/>
<polygon points="161.4,398.1 169.8,398.1 165.6,392.1" fill="#20e6e6"/>
<polygon points="161.7,410.0 169.5,410.0 165.6,404.4" fill="#5050a8"/>
<line x1="147" y1="419.4" x2="183.9" y2="419.4" stroke="#b4b0a8" stroke-width="1.0"/>
<polygon points="161.1,422.9 170.1,422.9 165.6,416.4" fill="#b4b0a8"/>
<ellipse cx="165.6" cy="431.9" rx="3.8" ry="3.2" fill="#000"/>
<line x1="147" y1="443.3" x2="183.9" y2="443.3" stroke="#1a1a66" stroke-width="1.0"/>
<ellipse cx="165.6" cy="443.3" rx="3.9" ry="3.1" fill="none" stroke="#1a1a66" stroke-width="1.0"/>
<text x="191.07" y="336.10" font-family="Liberation Sans" font-size="9.2" font-weight="normal" fill="#2a2a2a" textLength="185.88" lengthAdjust="spacingAndGlyphs" xml:space="preserve">Present work(Corsika_QGSJET+HD)</text>
<text x="191.07" y="347.90" font-family="Liberation Sans" font-size="9.2" font-weight="normal" fill="#2a2a2a" textLength="186.64" lengthAdjust="spacingAndGlyphs" xml:space="preserve">Present work(Corsika_QGSJET+PD)</text>
<text x="191.74" y="360.80" font-family="Liberation Sans" font-size="9.2" font-weight="normal" fill="#2a2a2a" textLength="170.22" lengthAdjust="spacingAndGlyphs" xml:space="preserve">Tibet-B.D.(Corsika_QGSJET-HD)</text>
<text x="191.74" y="372.90" font-family="Liberation Sans" font-size="9.2" font-weight="normal" fill="#2a2a2a" textLength="169.72" lengthAdjust="spacingAndGlyphs" xml:space="preserve">Tibet-B.D.(Corsika_QGSJET-PD)</text>
<text x="191.07" y="385.40" font-family="Liberation Sans" font-size="9.2" font-weight="normal" fill="#2a2a2a" textLength="142.14" lengthAdjust="spacingAndGlyphs" xml:space="preserve">Kascade(Corsika_QGSJET)</text>
<text x="191.83" y="397.20" font-family="Liberation Sans" font-size="9.2" font-weight="normal" fill="#2a2a2a" textLength="35.65" lengthAdjust="spacingAndGlyphs" xml:space="preserve">JACEE</text>
<text x="191.08" y="409.70" font-family="Liberation Sans" font-size="9.2" font-weight="normal" fill="#2a2a2a" textLength="46.21" lengthAdjust="spacingAndGlyphs" xml:space="preserve">RUNJOB</text>
<text x="191.45" y="422.20" font-family="Liberation Sans" font-size="9.2" font-weight="normal" fill="#2a2a2a" textLength="41.79" lengthAdjust="spacingAndGlyphs" xml:space="preserve">Grigorov</text>
<text x="191.75" y="434.00" font-family="Liberation Sans" font-size="9.2" font-weight="normal" fill="#2a2a2a" textLength="39.00" lengthAdjust="spacingAndGlyphs" xml:space="preserve">Tibet all</text>
<text x="191.98" y="445.80" font-family="Liberation Sans" font-size="9.2" font-weight="normal" fill="#2a2a2a" textLength="31.28" lengthAdjust="spacingAndGlyphs" xml:space="preserve">Akeno</text>
</svg>
</body></html>
